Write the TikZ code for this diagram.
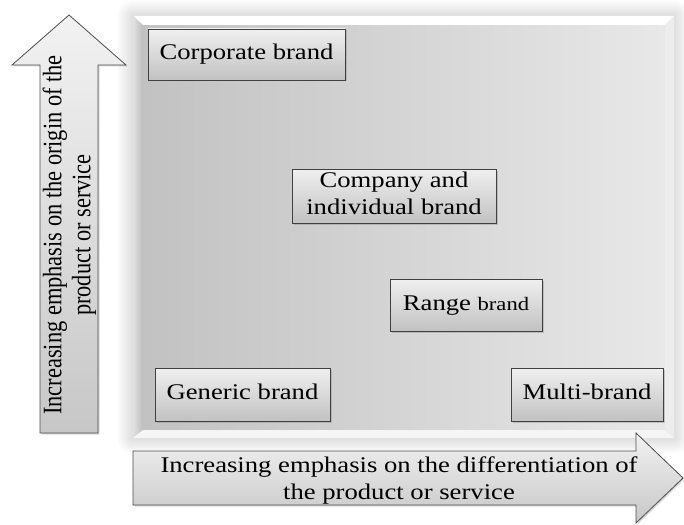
\documentclass[tikz,border=0pt]{standalone}
\usepackage{fontspec}
\setmainfont{Liberation Serif}
\usepackage{graphicx}
\usetikzlibrary{shadows}
\newcommand{\wide}[1]{\scalebox{1.19}[1]{\begin{tabular}{@{}c@{}}#1\end{tabular}}}
\newcommand{\tall}[1]{\scalebox{1}[1.19]{\begin{tabular}{@{}c@{}}#1\end{tabular}}}
\tikzset{
	brand/.style= {
		rectangle,
		draw=black!75,
		line width=0.8pt,
		top color=black!6,
		bottom color=black!24,
		inner sep=0pt,
		drop shadow={shadow xshift=1.5pt, shadow yshift=-1.5pt, opacity=0.35},
		font=\fontsize{22.4}{27}\selectfont
	},
	axisarrow/.style= {
		draw=black!70,
		line width=0.8pt,
		top color=black!5,
		bottom color=black!22,
		drop shadow={shadow xshift=1.5pt, shadow yshift=-1.5pt, opacity=0.3}
	},
	axislabel/.style= {
		inner sep=0pt,
		font=\fontsize{22.4}{27}\selectfont
	},
}

\begin{document}
\begin{tikzpicture}[x=1pt, y=-1pt]
		\useasboundingbox (0,0) rectangle (684,524);
		
		% glow round the panel
		\foreach \d in {1,...,16}
			\fill[black, opacity=0.008, rounded corners=\d pt] (133-\d,16-\d) rectangle (674+\d,438+\d);
		
		\shade[left color=black!24, right color=black!9] (143,25) rectangle (665,430);
		\fill[white] (133,16) -- (674,16) -- (665,25) -- (143,25) -- cycle;
		\shade[left color=black!12, right color=black!26] (133,16) -- (143,25) -- (143,430) -- (133,438) -- cycle;
		\fill[black!4] (133,438) -- (143,430) -- (665,430) -- (674,438) -- cycle;
		\fill[black!7] (674,16) -- (665,25) -- (665,430) -- (674,438) -- cycle;
		
		\node (corporate) [brand, minimum width=197pt, minimum height=51pt] at (246.5,54.5) {\wide{Corporate brand}};
		\node (company) [brand, minimum width=204pt, minimum height=52pt] at (394,196) {\wide{Company and\\individual brand}};
		\node (range) [brand, minimum width=152pt, minimum height=52pt] at (466,305) {\wide{Range {\fontsize{19}{27}\selectfont brand}}};
		\node (generic) [brand, minimum width=175pt, minimum height=53pt] at (242.5,394.5) {\wide{Generic brand}};
		\node (multi) [brand, minimum width=152pt, minimum height=53pt] at (587,394.5) {\wide{Multi-brand}};
		
		\draw[axisarrow] (40,433) -- (40,65) -- (12,65) -- (69,15) -- (126,65) -- (98,65) -- (98,433) -- cycle;
		\draw[axisarrow] (133,451) -- (636,451) -- (636,433) -- (683,478) -- (636,523) -- (636,505) -- (133,505) -- cycle;
		
		\node (vlabel) [axislabel, rotate=90, font=\fontsize{22.4}{24.5}\selectfont] at (70,235) {\tall{Increasing emphasis on the origin of the\\product or service}};
		\node (hlabel) [axislabel] at (399,481) {\wide{Increasing emphasis on the differentiation of\\the product or service}};
\end{tikzpicture}
\end{document}
